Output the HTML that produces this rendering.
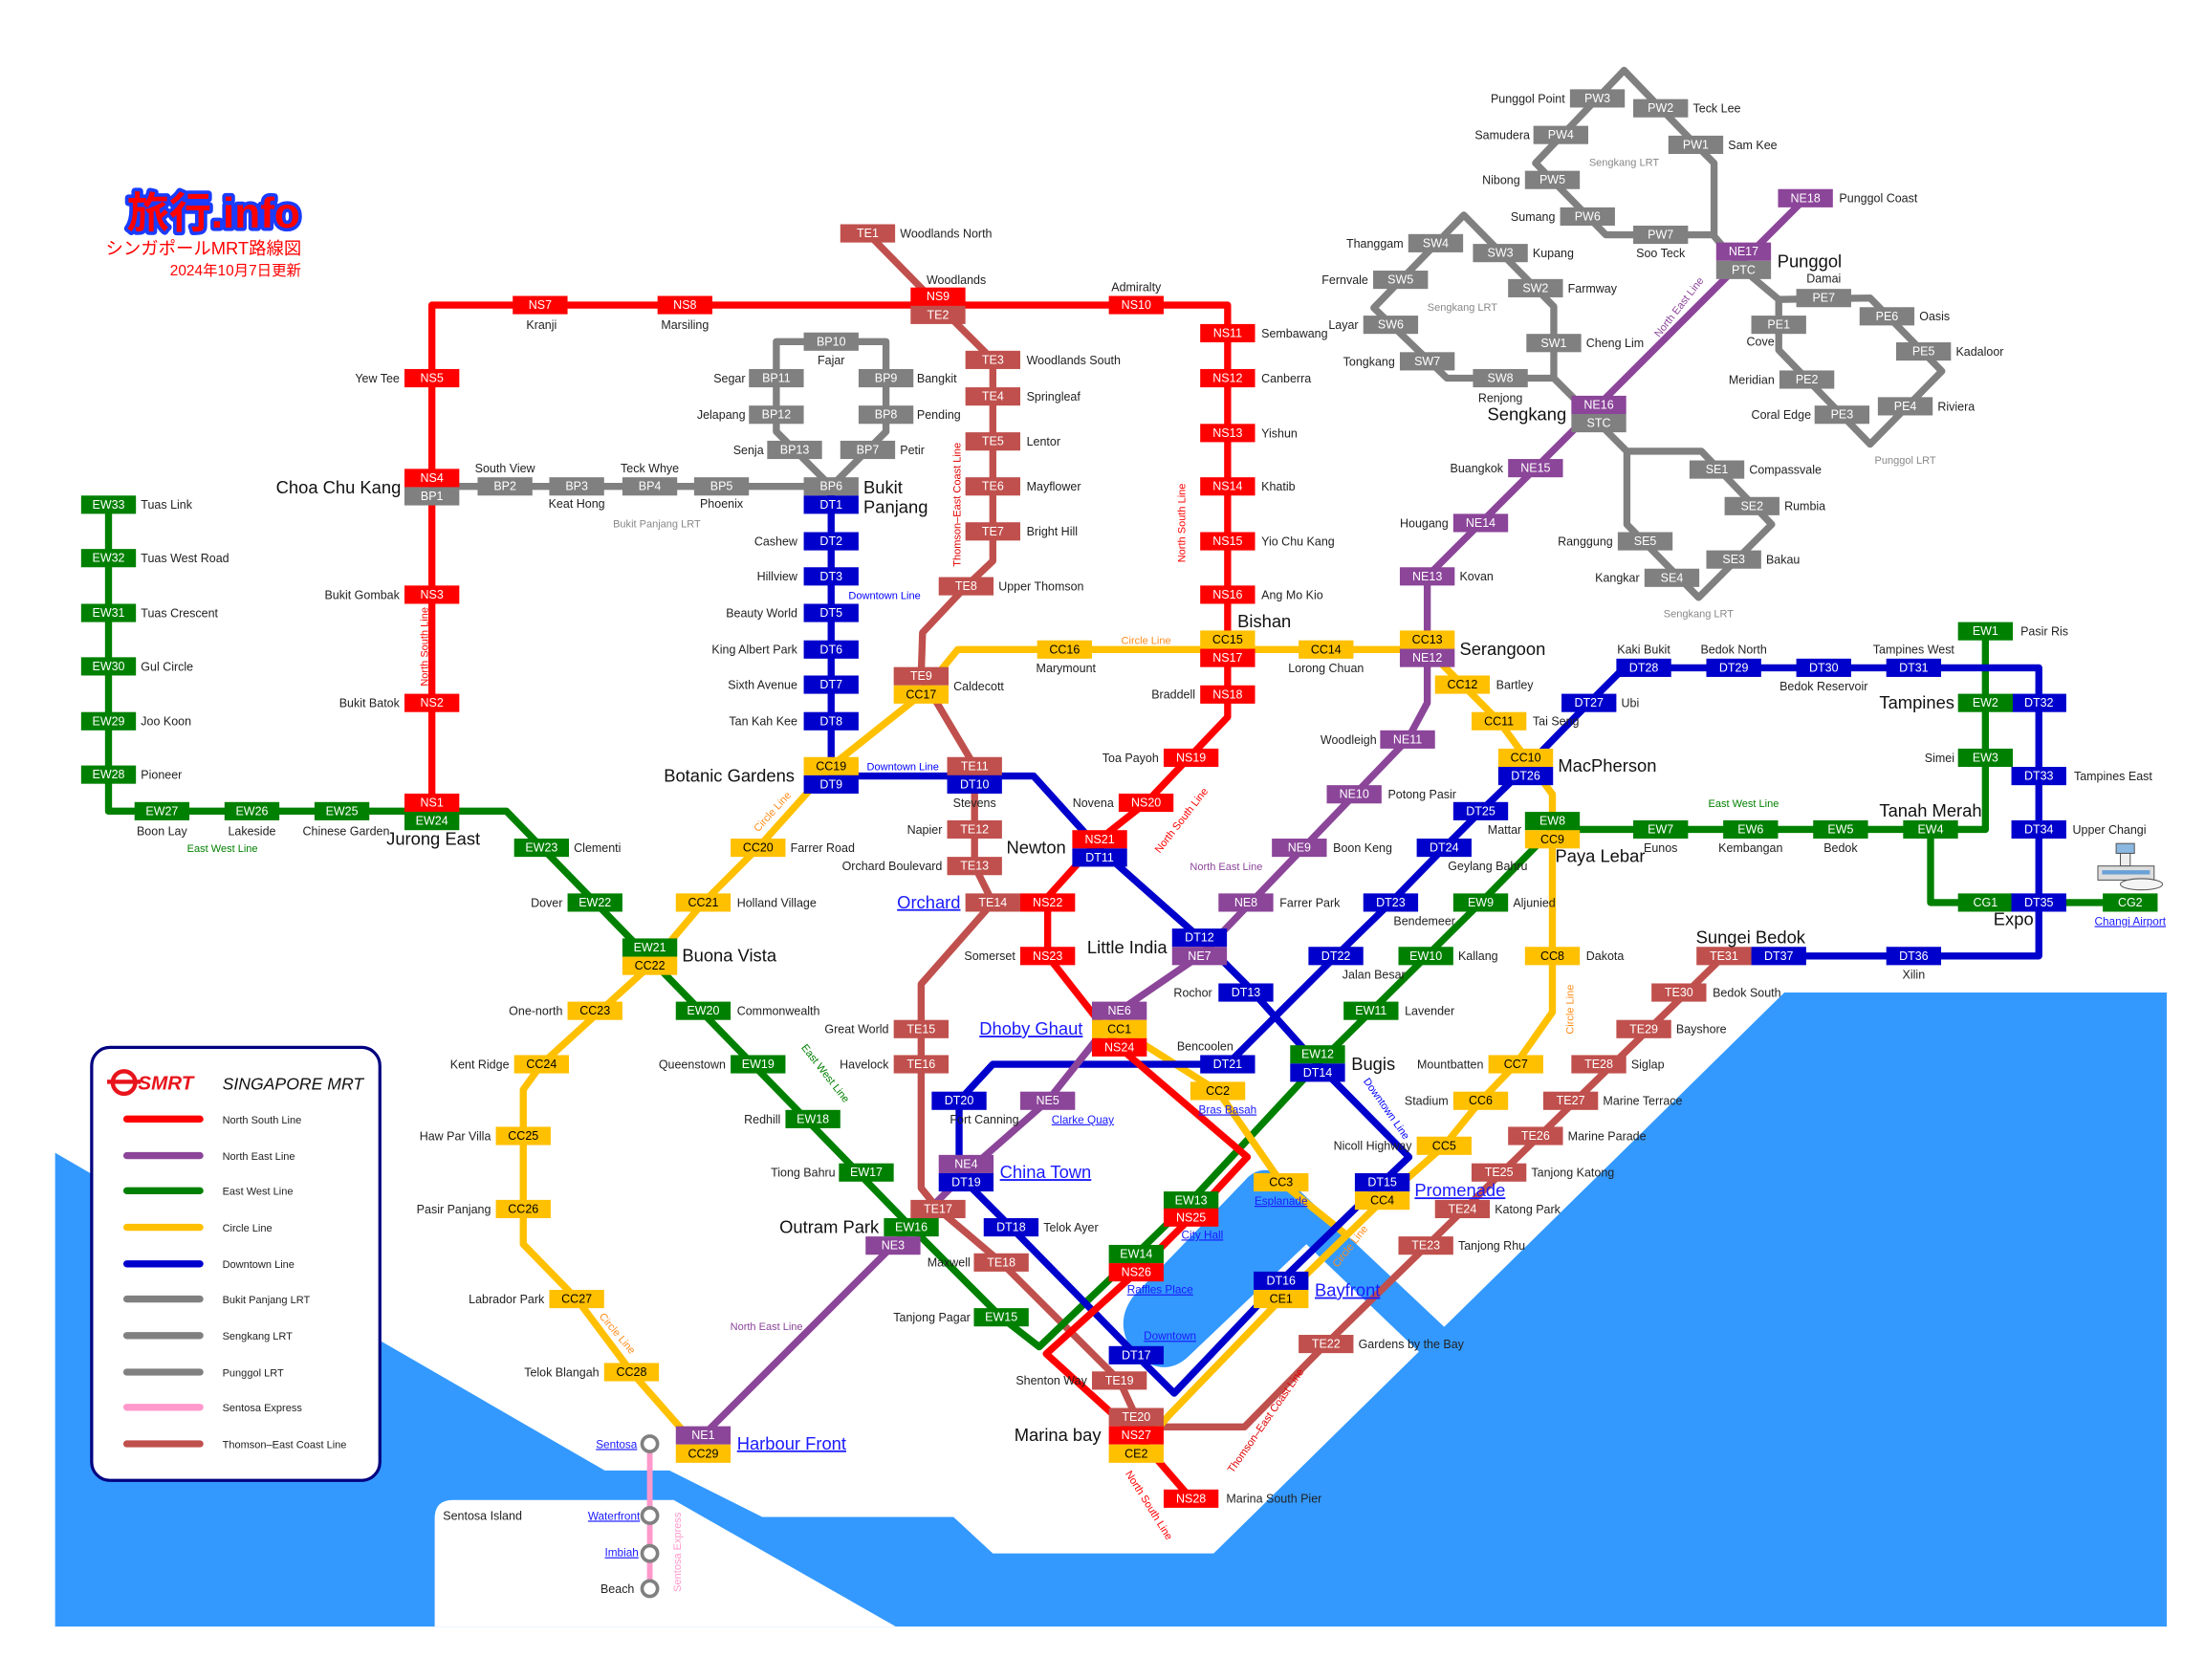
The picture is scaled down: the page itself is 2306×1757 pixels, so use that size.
<!DOCTYPE html>
<html><head><meta charset="utf-8">
<style>
html,body{margin:0;padding:0;background:#fff;}
svg{display:block;}
text{font-family:"Liberation Sans","Noto Sans CJK JP",sans-serif;}
.st rect{x:-19.5px;y:-6.5px;width:39px;height:13px;}
.st text{font-size:8.5px;fill:#fff;text-anchor:middle;dominant-baseline:central;}
.r rect{fill:#ff0000}.p rect{fill:#8b4599}.g rect{fill:#008000}.y rect{fill:#ffc000}.y text{fill:#000}
.b rect{fill:#0000cc}.k rect{fill:#808080}.t rect{fill:#c0504d}
.l{font-size:8.5px;fill:#222;}
.e{text-anchor:end}.m{text-anchor:middle}
.big{font-size:12.5px;fill:#111;}
.u{fill:#1a1aff;text-decoration:underline;}
.ln{fill:none;stroke-width:5;stroke-linejoin:round;stroke-linecap:butt;}
.lrt{font-size:7.5px;fill:#888;}
</style></head><body>
<svg width="2306" height="1757" viewBox="0 0 1568 1195" xmlns="http://www.w3.org/2000/svg">
<rect width="1568" height="1195" fill="#fff"/>
<!-- sea -->
<path d="M39,820 L430,1046 L476,1046 L542,1079 L678,1079 L706,1105 L863,1105 L1269,706 L1541,706 L1541,1157 L39,1157 Z" fill="#3399ff"/>
<path d="M309,1157 L309,1080 Q309,1067 322,1067 L479,1067 L637,1157 Z" fill="#fff"/>
<path d="M885,840 Q893,830 905,833 L920,843 L1040,956 L1020,972 L929,885 L846,964 Q830,980 810,966 L802,955 Q794,938 806,922 Z" fill="#3399ff"/>

<!-- lines -->
<g class="ln">
<path d="M617,166 L667,217 L706,256 L706,399 L687,417 L656,450 L655,481 L693,545 L693,616 L706,642 L655,700 L655,845 L667,860 L712,898 L796,982 L808,1008 L808,1015 L885,1015 L943,956 L1226,680" stroke="#c0504d"/>
<path d="M307,346 L591,346 L565,320 L552,307 L552,243 L630,243 L630,307 L617,320 L591,346" stroke="#808080"/>
<path d="M1240,192 L1219,168 L1219,116 L1206,103 L1155,50 L1092,116 L1142,167 L1219,167" stroke="#808080"/>
<path d="M1137,301 L1105,269 L1105,218 L1041,153 L977,219 L1029,269 L1105,269" stroke="#808080"/>
<path d="M1240,192 L1265,213 L1330,212 L1381,264 L1330,316 L1265,249 L1265,213" stroke="#808080"/>
<path d="M1137,301 L1157,321 L1210,321 L1260,373 L1208,425 L1157,373 L1157,321" stroke="#808080"/>
<path d="M77,359 L77,577 L360,577 L648,873 L712,937 L739,958 L808,892 L847,854 L937,757 L1053,642 L1104,590 L1412,590 L1412,449 M1373,590 L1373,642 L1515,642" stroke="#008000"/>
<path d="M500,1034 L449,976 L410,924 L372,885 L372,775 L385,757 L462,687 L500,642 L539,603 L591,545 L655,494 L681,462 L1015,462 L1040,487 L1066,513 L1085,539 L1104,565 L1104,720 L1078,757 L1053,783 L1027,815 L983,854 L911,924 L831,1007 L808,1034 M796,732 L866,776 L911,841 L957,878" stroke="#ffc000"/>
<path d="M591,346 L591,552 L735,552 L782,604 L853,667 L886,700 L937,757 L1002,823 L983,841 L911,911 L835,991 L808,964 L719,873 L682,836 L682,783 L706,757 L873,757 L950,680 L989,642 L1027,603 L1053,577 L1085,546 L1130,500 L1155,475 L1450,475 L1450,680 L1226,680" stroke="#0000cc"/>
<path d="M500,1021 L635,886 L687,834 L745,783 L796,719 L853,680 L1001,526 L1015,500 L1015,410 L1137,288 L1284,141" stroke="#8b4599"/>
<path d="M307,571 L307,217 L873,217 L873,510 L815,571 L782,597 L745,638 L745,680 L796,745 L887,823 L847,866 L808,905 L744,963 L808,1021 L847,1066" stroke="#ff0000"/>
<path d="M462,1027 L462,1130" stroke="#ff99cc" stroke-width="4"/>
</g>
<g fill="#fff" stroke="#808080" stroke-width="2.5">
<circle cx="462" cy="1027" r="5.5"/><circle cx="462" cy="1078" r="5.5"/><circle cx="462" cy="1105" r="5.5"/><circle cx="462" cy="1130" r="5.5"/>
</g>

<!-- stations -->
<g class="st">
<g class="g" transform="translate(77,359)"><rect/><text>EW33</text></g>
<g class="g" transform="translate(77,397)"><rect/><text>EW32</text></g>
<g class="g" transform="translate(77,436)"><rect/><text>EW31</text></g>
<g class="g" transform="translate(77,474)"><rect/><text>EW30</text></g>
<g class="g" transform="translate(77,513)"><rect/><text>EW29</text></g>
<g class="g" transform="translate(77,551)"><rect/><text>EW28</text></g>
<g class="g" transform="translate(115,577)"><rect/><text>EW27</text></g>
<g class="g" transform="translate(179,577)"><rect/><text>EW26</text></g>
<g class="g" transform="translate(243,577)"><rect/><text>EW25</text></g>
<g class="r" transform="translate(307,571)"><rect/><text>NS1</text></g>
<g class="g" transform="translate(307,584)"><rect/><text>EW24</text></g>
<g class="g" transform="translate(385,603)"><rect/><text>EW23</text></g>
<g class="g" transform="translate(423,642)"><rect/><text>EW22</text></g>
<g class="g" transform="translate(462,674)"><rect/><text>EW21</text></g>
<g class="y" transform="translate(462,687)"><rect/><text>CC22</text></g>
<g class="g" transform="translate(500,719)"><rect/><text>EW20</text></g>
<g class="g" transform="translate(539,757)"><rect/><text>EW19</text></g>
<g class="g" transform="translate(578,796)"><rect/><text>EW18</text></g>
<g class="g" transform="translate(616,834)"><rect/><text>EW17</text></g>
<g class="t" transform="translate(667,860)"><rect/><text>TE17</text></g>
<g class="g" transform="translate(648,873)"><rect/><text>EW16</text></g>
<g class="p" transform="translate(635,886)"><rect/><text>NE3</text></g>
<g class="t" transform="translate(712,898)"><rect/><text>TE18</text></g>
<g class="g" transform="translate(712,937)"><rect/><text>EW15</text></g>
<g class="t" transform="translate(796,982)"><rect/><text>TE19</text></g>
<g class="t" transform="translate(808,1008)"><rect/><text>TE20</text></g>
<g class="r" transform="translate(808,1021)"><rect/><text>NS27</text></g>
<g class="y" transform="translate(808,1034)"><rect/><text>CE2</text></g>
<g class="r" transform="translate(847,1066)"><rect/><text>NS28</text></g>
<g class="g" transform="translate(808,892)"><rect/><text>EW14</text></g>
<g class="r" transform="translate(808,905)"><rect/><text>NS26</text></g>
<g class="g" transform="translate(847,854)"><rect/><text>EW13</text></g>
<g class="r" transform="translate(847,866)"><rect/><text>NS25</text></g>
<g class="b" transform="translate(808,964)"><rect/><text>DT17</text></g>
<g class="b" transform="translate(911,911)"><rect/><text>DT16</text></g>
<g class="y" transform="translate(911,924)"><rect/><text>CE1</text></g>
<g class="y" transform="translate(911,841)"><rect/><text>CC3</text></g>
<g class="b" transform="translate(983,841)"><rect/><text>DT15</text></g>
<g class="y" transform="translate(983,854)"><rect/><text>CC4</text></g>
<g class="y" transform="translate(1027,815)"><rect/><text>CC5</text></g>
<g class="y" transform="translate(1053,783)"><rect/><text>CC6</text></g>
<g class="y" transform="translate(1078,757)"><rect/><text>CC7</text></g>
<g class="y" transform="translate(1104,680)"><rect/><text>CC8</text></g>
<g class="g" transform="translate(937,750)"><rect/><text>EW12</text></g>
<g class="b" transform="translate(937,763)"><rect/><text>DT14</text></g>
<g class="g" transform="translate(975,719)"><rect/><text>EW11</text></g>
<g class="g" transform="translate(1014,680)"><rect/><text>EW10</text></g>
<g class="b" transform="translate(950,680)"><rect/><text>DT22</text></g>
<g class="b" transform="translate(886,706)"><rect/><text>DT13</text></g>
<g class="b" transform="translate(873,757)"><rect/><text>DT21</text></g>
<g class="y" transform="translate(866,776)"><rect/><text>CC2</text></g>
<g class="p" transform="translate(796,719)"><rect/><text>NE6</text></g>
<g class="y" transform="translate(796,732)"><rect/><text>CC1</text></g>
<g class="r" transform="translate(796,745)"><rect/><text>NS24</text></g>
<g class="p" transform="translate(745,783)"><rect/><text>NE5</text></g>
<g class="b" transform="translate(682,783)"><rect/><text>DT20</text></g>
<g class="p" transform="translate(687,828)"><rect/><text>NE4</text></g>
<g class="b" transform="translate(687,841)"><rect/><text>DT19</text></g>
<g class="b" transform="translate(719,873)"><rect/><text>DT18</text></g>
<g class="t" transform="translate(655,732)"><rect/><text>TE15</text></g>
<g class="t" transform="translate(655,757)"><rect/><text>TE16</text></g>
<g class="r" transform="translate(745,680)"><rect/><text>NS23</text></g>
<g class="t" transform="translate(706,642)"><rect/><text>TE14</text></g>
<g class="r" transform="translate(745,642)"><rect/><text>NS22</text></g>
<g class="t" transform="translate(693,616)"><rect/><text>TE13</text></g>
<g class="t" transform="translate(693,590)"><rect/><text>TE12</text></g>
<g class="t" transform="translate(693,545)"><rect/><text>TE11</text></g>
<g class="b" transform="translate(693,558)"><rect/><text>DT10</text></g>
<g class="r" transform="translate(782,597)"><rect/><text>NS21</text></g>
<g class="b" transform="translate(782,610)"><rect/><text>DT11</text></g>
<g class="r" transform="translate(815,571)"><rect/><text>NS20</text></g>
<g class="r" transform="translate(847,539)"><rect/><text>NS19</text></g>
<g class="b" transform="translate(853,667)"><rect/><text>DT12</text></g>
<g class="p" transform="translate(853,680)"><rect/><text>NE7</text></g>
<g class="p" transform="translate(886,642)"><rect/><text>NE8</text></g>
<g class="p" transform="translate(924,603)"><rect/><text>NE9</text></g>
<g class="p" transform="translate(963,565)"><rect/><text>NE10</text></g>
<g class="p" transform="translate(1001,526)"><rect/><text>NE11</text></g>
<g class="b" transform="translate(989,642)"><rect/><text>DT23</text></g>
<g class="g" transform="translate(1053,642)"><rect/><text>EW9</text></g>
<g class="b" transform="translate(1027,603)"><rect/><text>DT24</text></g>
<g class="b" transform="translate(1053,577)"><rect/><text>DT25</text></g>
<g class="g" transform="translate(1104,584)"><rect/><text>EW8</text></g>
<g class="y" transform="translate(1104,597)"><rect/><text>CC9</text></g>
<g class="y" transform="translate(1085,539)"><rect/><text>CC10</text></g>
<g class="b" transform="translate(1085,552)"><rect/><text>DT26</text></g>
<g class="y" transform="translate(1066,513)"><rect/><text>CC11</text></g>
<g class="y" transform="translate(1040,487)"><rect/><text>CC12</text></g>
<g class="y" transform="translate(1015,455)"><rect/><text>CC13</text></g>
<g class="p" transform="translate(1015,468)"><rect/><text>NE12</text></g>
<g class="y" transform="translate(943,462)"><rect/><text>CC14</text></g>
<g class="p" transform="translate(1015,410)"><rect/><text>NE13</text></g>
<g class="p" transform="translate(1053,372)"><rect/><text>NE14</text></g>
<g class="p" transform="translate(1092,333)"><rect/><text>NE15</text></g>
<g class="p" transform="translate(1137,288)"><rect/><text>NE16</text></g>
<g class="k" transform="translate(1137,301)"><rect/><text>STC</text></g>
<g class="b" transform="translate(1130,500)"><rect/><text>DT27</text></g>
<g class="b" transform="translate(1169,475)"><rect/><text>DT28</text></g>
<g class="b" transform="translate(1233,475)"><rect/><text>DT29</text></g>
<g class="b" transform="translate(1297,475)"><rect/><text>DT30</text></g>
<g class="b" transform="translate(1361,475)"><rect/><text>DT31</text></g>
<g class="b" transform="translate(1450,500)"><rect/><text>DT32</text></g>
<g class="g" transform="translate(1412,500)"><rect/><text>EW2</text></g>
<g class="g" transform="translate(1412,449)"><rect/><text>EW1</text></g>
<g class="g" transform="translate(1412,539)"><rect/><text>EW3</text></g>
<g class="b" transform="translate(1450,552)"><rect/><text>DT33</text></g>
<g class="b" transform="translate(1450,590)"><rect/><text>DT34</text></g>
<g class="g" transform="translate(1373,590)"><rect/><text>EW4</text></g>
<g class="g" transform="translate(1181,590)"><rect/><text>EW7</text></g>
<g class="g" transform="translate(1245,590)"><rect/><text>EW6</text></g>
<g class="g" transform="translate(1309,590)"><rect/><text>EW5</text></g>
<g class="g" transform="translate(1412,642)"><rect/><text>CG1</text></g>
<g class="b" transform="translate(1450,642)"><rect/><text>DT35</text></g>
<g class="g" transform="translate(1515,642)"><rect/><text>CG2</text></g>
<g class="b" transform="translate(1361,680)"><rect/><text>DT36</text></g>
<g class="b" transform="translate(1265,680)"><rect/><text>DT37</text></g>
<g class="t" transform="translate(1226,680)"><rect/><text>TE31</text></g>
<g class="t" transform="translate(1194,706)"><rect/><text>TE30</text></g>
<g class="t" transform="translate(1169,732)"><rect/><text>TE29</text></g>
<g class="t" transform="translate(1137,757)"><rect/><text>TE28</text></g>
<g class="t" transform="translate(1117,783)"><rect/><text>TE27</text></g>
<g class="t" transform="translate(1092,808)"><rect/><text>TE26</text></g>
<g class="t" transform="translate(1066,834)"><rect/><text>TE25</text></g>
<g class="t" transform="translate(1040,860)"><rect/><text>TE24</text></g>
<g class="t" transform="translate(1014,886)"><rect/><text>TE23</text></g>
<g class="t" transform="translate(943,956)"><rect/><text>TE22</text></g>
<g class="k" transform="translate(591,346)"><rect/><text>BP6</text></g>
<g class="b" transform="translate(591,359)"><rect/><text>DT1</text></g>
<g class="b" transform="translate(591,385)"><rect/><text>DT2</text></g>
<g class="b" transform="translate(591,410)"><rect/><text>DT3</text></g>
<g class="b" transform="translate(591,436)"><rect/><text>DT5</text></g>
<g class="b" transform="translate(591,462)"><rect/><text>DT6</text></g>
<g class="b" transform="translate(591,487)"><rect/><text>DT7</text></g>
<g class="b" transform="translate(591,513)"><rect/><text>DT8</text></g>
<g class="y" transform="translate(591,545)"><rect/><text>CC19</text></g>
<g class="b" transform="translate(591,558)"><rect/><text>DT9</text></g>
<g class="y" transform="translate(539,603)"><rect/><text>CC20</text></g>
<g class="y" transform="translate(500,642)"><rect/><text>CC21</text></g>
<g class="y" transform="translate(423,719)"><rect/><text>CC23</text></g>
<g class="y" transform="translate(385,757)"><rect/><text>CC24</text></g>
<g class="y" transform="translate(372,808)"><rect/><text>CC25</text></g>
<g class="y" transform="translate(372,860)"><rect/><text>CC26</text></g>
<g class="y" transform="translate(410,924)"><rect/><text>CC27</text></g>
<g class="y" transform="translate(449,976)"><rect/><text>CC28</text></g>
<g class="p" transform="translate(500,1021)"><rect/><text>NE1</text></g>
<g class="y" transform="translate(500,1034)"><rect/><text>CC29</text></g>
<g class="r" transform="translate(307,269)"><rect/><text>NS5</text></g>
<g class="r" transform="translate(307,340)"><rect/><text>NS4</text></g>
<g class="k" transform="translate(307,353)"><rect/><text>BP1</text></g>
<g class="r" transform="translate(307,423)"><rect/><text>NS3</text></g>
<g class="r" transform="translate(307,500)"><rect/><text>NS2</text></g>
<g class="r" transform="translate(384,217)"><rect/><text>NS7</text></g>
<g class="r" transform="translate(487,217)"><rect/><text>NS8</text></g>
<g class="r" transform="translate(667,211)"><rect/><text>NS9</text></g>
<g class="t" transform="translate(667,224)"><rect/><text>TE2</text></g>
<g class="r" transform="translate(808,217)"><rect/><text>NS10</text></g>
<g class="r" transform="translate(873,237)"><rect/><text>NS11</text></g>
<g class="r" transform="translate(873,269)"><rect/><text>NS12</text></g>
<g class="r" transform="translate(873,308)"><rect/><text>NS13</text></g>
<g class="r" transform="translate(873,346)"><rect/><text>NS14</text></g>
<g class="r" transform="translate(873,385)"><rect/><text>NS15</text></g>
<g class="r" transform="translate(873,423)"><rect/><text>NS16</text></g>
<g class="y" transform="translate(873,455)"><rect/><text>CC15</text></g>
<g class="r" transform="translate(873,468)"><rect/><text>NS17</text></g>
<g class="r" transform="translate(873,494)"><rect/><text>NS18</text></g>
<g class="t" transform="translate(617,166)"><rect/><text>TE1</text></g>
<g class="t" transform="translate(706,256)"><rect/><text>TE3</text></g>
<g class="t" transform="translate(706,282)"><rect/><text>TE4</text></g>
<g class="t" transform="translate(706,314)"><rect/><text>TE5</text></g>
<g class="t" transform="translate(706,346)"><rect/><text>TE6</text></g>
<g class="t" transform="translate(706,378)"><rect/><text>TE7</text></g>
<g class="t" transform="translate(687,417)"><rect/><text>TE8</text></g>
<g class="t" transform="translate(655,481)"><rect/><text>TE9</text></g>
<g class="y" transform="translate(655,494)"><rect/><text>CC17</text></g>
<g class="y" transform="translate(757,462)"><rect/><text>CC16</text></g>
<g class="k" transform="translate(359,346)"><rect/><text>BP2</text></g>
<g class="k" transform="translate(410,346)"><rect/><text>BP3</text></g>
<g class="k" transform="translate(462,346)"><rect/><text>BP4</text></g>
<g class="k" transform="translate(513,346)"><rect/><text>BP5</text></g>
<g class="k" transform="translate(565,320)"><rect/><text>BP13</text></g>
<g class="k" transform="translate(552,295)"><rect/><text>BP12</text></g>
<g class="k" transform="translate(552,269)"><rect/><text>BP11</text></g>
<g class="k" transform="translate(591,243)"><rect/><text>BP10</text></g>
<g class="k" transform="translate(630,269)"><rect/><text>BP9</text></g>
<g class="k" transform="translate(630,295)"><rect/><text>BP8</text></g>
<g class="k" transform="translate(617,320)"><rect/><text>BP7</text></g>
<g class="k" transform="translate(1136,70)"><rect/><text>PW3</text></g>
<g class="k" transform="translate(1181,77)"><rect/><text>PW2</text></g>
<g class="k" transform="translate(1110,96)"><rect/><text>PW4</text></g>
<g class="k" transform="translate(1206,103)"><rect/><text>PW1</text></g>
<g class="k" transform="translate(1104,128)"><rect/><text>PW5</text></g>
<g class="k" transform="translate(1129,154)"><rect/><text>PW6</text></g>
<g class="k" transform="translate(1181,167)"><rect/><text>PW7</text></g>
<g class="k" transform="translate(1021,173)"><rect/><text>SW4</text></g>
<g class="k" transform="translate(1067,180)"><rect/><text>SW3</text></g>
<g class="k" transform="translate(996,199)"><rect/><text>SW5</text></g>
<g class="k" transform="translate(1092,205)"><rect/><text>SW2</text></g>
<g class="k" transform="translate(989,231)"><rect/><text>SW6</text></g>
<g class="k" transform="translate(1105,244)"><rect/><text>SW1</text></g>
<g class="k" transform="translate(1015,257)"><rect/><text>SW7</text></g>
<g class="k" transform="translate(1067,269)"><rect/><text>SW8</text></g>
<g class="p" transform="translate(1240,179)"><rect/><text>NE17</text></g>
<g class="k" transform="translate(1240,192)"><rect/><text>PTC</text></g>
<g class="p" transform="translate(1284,141)"><rect/><text>NE18</text></g>
<g class="k" transform="translate(1297,212)"><rect/><text>PE7</text></g>
<g class="k" transform="translate(1342,225)"><rect/><text>PE6</text></g>
<g class="k" transform="translate(1265,231)"><rect/><text>PE1</text></g>
<g class="k" transform="translate(1368,250)"><rect/><text>PE5</text></g>
<g class="k" transform="translate(1285,270)"><rect/><text>PE2</text></g>
<g class="k" transform="translate(1355,289)"><rect/><text>PE4</text></g>
<g class="k" transform="translate(1310,295)"><rect/><text>PE3</text></g>
<g class="k" transform="translate(1221,334)"><rect/><text>SE1</text></g>
<g class="k" transform="translate(1246,360)"><rect/><text>SE2</text></g>
<g class="k" transform="translate(1170,385)"><rect/><text>SE5</text></g>
<g class="k" transform="translate(1233,398)"><rect/><text>SE3</text></g>
<g class="k" transform="translate(1189,411)"><rect/><text>SE4</text></g>
</g>

<!-- labels -->
<g class="l">
<text x="100" y="362">Tuas Link</text><text x="100" y="400">Tuas West Road</text><text x="100" y="439">Tuas Crescent</text>
<text x="100" y="477">Gul Circle</text><text x="100" y="516">Joo Koon</text><text x="100" y="554">Pioneer</text>
<text class="m" x="115" y="594">Boon Lay</text><text class="m" x="179" y="594">Lakeside</text><text class="m" x="246" y="594">Chinese Garden</text>
<text x="408" y="606">Clementi</text><text class="e" x="400" y="645">Dover</text>
<text x="524" y="722">Commonwealth</text><text class="e" x="516" y="760">Queenstown</text>
<text class="e" x="555" y="799">Redhill</text><text class="e" x="594" y="837">Tiong Bahru</text>
<text class="e" x="690" y="901">Maxwell</text><text class="e" x="690" y="940">Tanjong Pagar</text>
<text class="e" x="773" y="985">Shenton Way</text><text x="872" y="1069">Marina South Pier</text>
<text x="742" y="876">Telok Ayer</text>
<text class="e" x="632" y="735">Great World</text><text class="e" x="632" y="760">Havelock</text>
<text class="m" x="700" y="799">Fort Canning</text>
<text class="e" x="722" y="683">Somerset</text><text class="e" x="670" y="619">Orchard Boulevard</text><text class="e" x="670" y="593">Napier</text>
<text class="m" x="693" y="574">Stevens</text><text class="e" x="792" y="574">Novena</text><text class="e" x="824" y="542">Toa Payoh</text>
<text class="e" x="862" y="709">Rochor</text><text class="m" x="857" y="747">Bencoolen</text>
<text x="910" y="645">Farrer Park</text><text x="948" y="606">Boon Keng</text><text x="987" y="568">Potong Pasir</text>
<text class="e" x="979" y="529">Woodleigh</text><text class="m" x="977" y="696">Jalan Besar</text><text class="m" x="1013" y="658">Bendemeer</text>
<text x="1076" y="645">Aljunied</text><text class="m" x="1058" y="619">Geylang Bahru</text><text class="m" x="1070" y="593">Mattar</text>
<text x="999" y="722">Lavender</text><text x="1037" y="683">Kallang</text><text x="1128" y="683">Dakota</text>
<text class="e" x="1055" y="760">Mountbatten</text><text class="e" x="1030" y="786">Stadium</text><text class="e" x="1004" y="818">Nicoll Highway</text>
<text x="1090" y="516">Tai Seng</text><text x="1064" y="490">Bartley</text><text class="m" x="943" y="478">Lorong Chuan</text>
<text x="1038" y="413">Kovan</text><text class="e" x="1030" y="375">Hougang</text><text class="e" x="1069" y="336">Buangkok</text>
<text x="1153" y="503">Ubi</text><text class="m" x="1169" y="465">Kaki Bukit</text><text class="m" x="1233" y="465">Bedok North</text>
<text class="m" x="1297" y="491">Bedok Reservoir</text><text class="m" x="1361" y="465">Tampines West</text>
<text x="1437" y="452">Pasir Ris</text><text class="e" x="1390" y="542">Simei</text><text x="1475" y="555">Tampines East</text>
<text x="1474" y="593">Upper Changi</text>
<text class="m" x="1181" y="606">Eunos</text><text class="m" x="1245" y="606">Kembangan</text><text class="m" x="1309" y="606">Bedok</text>
<text class="m" x="1361" y="696">Xilin</text>
<text x="1218" y="709">Bedok South</text><text x="1192" y="735">Bayshore</text><text x="1160" y="760">Siglap</text>
<text x="1140" y="786">Marine Terrace</text><text x="1115" y="811">Marine Parade</text><text x="1089" y="837">Tanjong Katong</text>
<text x="1063" y="863">Katong Park</text><text x="1037" y="889">Tanjong Rhu</text><text x="966" y="959">Gardens by the Bay</text>
<text class="e" x="567" y="388">Cashew</text><text class="e" x="567" y="413">Hillview</text><text class="e" x="567" y="439">Beauty World</text>
<text class="e" x="567" y="465">King Albert Park</text><text class="e" x="567" y="490">Sixth Avenue</text><text class="e" x="567" y="516">Tan Kah Kee</text>
<text x="562" y="606">Farrer Road</text><text x="524" y="645">Holland Village</text>
<text class="e" x="400" y="722">One-north</text><text class="e" x="362" y="760">Kent Ridge</text><text class="e" x="349" y="811">Haw Par Villa</text>
<text class="e" x="349" y="863">Pasir Panjang</text><text class="e" x="387" y="927">Labrador Park</text><text class="e" x="426" y="979">Telok Blangah</text>
<text class="e" x="451" y="1133">Beach</text><text class="m" x="343" y="1081">Sentosa Island</text>
<text class="e" x="284" y="272">Yew Tee</text><text class="e" x="284" y="426">Bukit Gombak</text><text class="e" x="284" y="503">Bukit Batok</text>
<text class="m" x="385" y="234">Kranji</text><text class="m" x="487" y="234">Marsiling</text>
<text class="m" x="680" y="202">Woodlands</text><text class="m" x="808" y="207">Admiralty</text>
<text x="897" y="240">Sembawang</text><text x="897" y="272">Canberra</text><text x="897" y="311">Yishun</text>
<text x="897" y="349">Khatib</text><text x="897" y="388">Yio Chu Kang</text><text x="897" y="426">Ang Mo Kio</text>
<text class="e" x="850" y="497">Braddell</text>
<text x="640" y="169">Woodlands North</text><text x="730" y="259">Woodlands South</text><text x="730" y="285">Springleaf</text>
<text x="730" y="317">Lentor</text><text x="730" y="349">Mayflower</text><text x="730" y="381">Bright Hill</text>
<text x="710" y="420">Upper Thomson</text><text x="678" y="491">Caldecott</text><text class="m" x="758" y="478">Marymount</text>
<text class="m" x="359" y="336">South View</text><text class="m" x="410" y="361">Keat Hong</text><text class="m" x="462" y="336">Teck Whye</text>
<text class="m" x="513" y="361">Phoenix</text>
<text class="e" x="543" y="323">Senja</text><text class="e" x="530" y="298">Jelapang</text><text class="e" x="530" y="272">Segar</text>
<text class="m" x="591" y="259">Fajar</text><text x="652" y="272">Bangkit</text><text x="652" y="298">Pending</text><text x="640" y="323">Petir</text>
<text class="e" x="1113" y="73">Punggol Point</text><text x="1204" y="80">Teck Lee</text><text class="e" x="1088" y="99">Samudera</text>
<text x="1229" y="106">Sam Kee</text><text class="e" x="1081" y="131">Nibong</text><text class="e" x="1106" y="157">Sumang</text>
<text class="m" x="1181" y="183">Soo Teck</text>
<text class="e" x="998" y="176">Thanggam</text><text x="1090" y="183">Kupang</text><text class="e" x="973" y="202">Fernvale</text>
<text x="1115" y="208">Farmway</text><text class="e" x="966" y="234">Layar</text><text x="1128" y="247">Cheng Lim</text>
<text class="e" x="992" y="260">Tongkang</text><text class="m" x="1067" y="286">Renjong</text>
<text class="m" x="1297" y="201">Damai</text><text x="1365" y="228">Oasis</text><text class="m" x="1252" y="246">Cove</text>
<text x="1391" y="253">Kadaloor</text><text class="e" x="1262" y="273">Meridian</text><text x="1378" y="292">Riviera</text>
<text class="e" x="1288" y="298">Coral Edge</text><text x="1308" y="144">Punggol Coast</text>
<text x="1244" y="337">Compassvale</text><text x="1269" y="363">Rumbia</text><text class="e" x="1147" y="388">Ranggung</text>
<text x="1256" y="401">Bakau</text><text class="e" x="1166" y="414">Kangkar</text>
</g>
<g class="lrt">
<text class="m" x="1155" y="118">Sengkang LRT</text><text class="m" x="1040" y="221">Sengkang LRT</text>
<text class="m" x="1355" y="330">Punggol LRT</text><text class="m" x="1208" y="439">Sengkang LRT</text>
<text class="m" x="467" y="375">Bukit Panjang LRT</text>
</g>
<!-- big labels -->
<g class="big">
<text class="m" x="308" y="601">Jurong East</text><text x="485" y="684">Buona Vista</text>
<text class="e" x="625" y="877">Outram Park</text><text class="e" x="783" y="1025">Marina bay</text>
<text x="961" y="761">Bugis</text><text class="e" x="830" y="678">Little India</text>
<text class="e" x="758" y="607">Newton</text><text class="m" x="1138" y="613">Paya Lebar</text>
<text x="1108" y="549">MacPherson</text><text x="1038" y="466">Serangoon</text>
<text class="e" x="1114" y="299">Sengkang</text><text x="1264" y="190">Punggol</text>
<text class="e" x="1390" y="504">Tampines</text><text class="m" x="1373" y="581">Tanah Merah</text>
<text class="m" x="1432" y="658">Expo</text><text class="m" x="1245" y="671">Sungei Bedok</text>
<text x="880" y="446">Bishan</text><text x="614" y="351">Bukit</text><text x="614" y="365">Panjang</text>
<text class="e" x="565" y="556">Botanic Gardens</text><text class="e" x="285" y="351">Choa Chu Kang</text>
</g>
<g class="big u">
<text class="e" x="770" y="736">Dhoby Ghaut</text><text x="711" y="838">China Town</text>
<text class="e" x="683" y="646">Orchard</text><text x="935" y="922">Bayfront</text>
<text x="1006" y="851">Promenade</text><text x="524" y="1031">Harbour Front</text>
</g>
<g class="l u" style="font-size:8px">
<text class="m" x="770" y="799">Clarke Quay</text><text class="m" x="873" y="792">Bras Basah</text>
<text class="m" x="911" y="857">Esplanade</text><text class="m" x="855" y="881">City Hall</text>
<text class="m" x="825" y="920">Raffles Place</text><text class="m" x="832" y="953">Downtown</text>
<text class="m" x="1515" y="658">Changi Airport</text>
<text class="e" x="453" y="1030">Sentosa</text><text class="e" x="455" y="1081">Waterfront</text><text class="e" x="454" y="1107">Imbiah</text>
</g>
<!-- line name labels -->
<g style="font-size:7.5px">
<text x="158" y="606" class="m" fill="#008000">East West Line</text>
<text x="1240" y="574" class="m" fill="#008000">East West Line</text>
<text transform="translate(585,765) rotate(52)" class="m" fill="#008000">East West Line</text>
<text x="629" y="426" class="m" fill="#0000ff">Downtown Line</text>
<text x="642" y="548" class="m" fill="#0000ff">Downtown Line</text>
<text transform="translate(984,790) rotate(55)" class="m" fill="#0000ff">Downtown Line</text>
<text x="815" y="458" class="m" fill="#ff8c1a">Circle Line</text>
<text transform="translate(551,579) rotate(-48)" class="m" fill="#ff8c1a">Circle Line</text>
<text transform="translate(437,950) rotate(50)" class="m" fill="#ff8c1a">Circle Line</text>
<text transform="translate(1119,718) rotate(-90)" class="m" fill="#ff8c1a">Circle Line</text>
<text transform="translate(962,888) rotate(-52)" class="m" fill="#ff8c1a">Circle Line</text>
<text transform="translate(683,359) rotate(-90)" class="m" fill="#e00000">Thomson–East Coast Line</text>
<text transform="translate(902,1012) rotate(-55)" class="m" fill="#e00000">Thomson–East Coast Line</text>
<text transform="translate(843,372) rotate(-90)" class="m" fill="#ff0000">North South Line</text>
<text transform="translate(304,460) rotate(-90)" class="m" fill="#ff0000">North South Line</text>
<text transform="translate(842,585) rotate(-52)" class="m" fill="#ff0000">North South Line</text>
<text transform="translate(815,1072) rotate(58)" class="m" fill="#ff0000">North South Line</text>
<text x="872" y="619" class="m" fill="#8b4599">North East Line</text>
<text x="545" y="946" class="m" fill="#8b4599">North East Line</text>
<text transform="translate(1196,220) rotate(-52)" class="m" fill="#8b4599">North East Line</text>
<text transform="translate(484,1104) rotate(-90)" class="m" fill="#ff99cc">Sentosa Express</text>
</g>

<!-- airport icon -->
<g>
<rect x="1505" y="600" width="13" height="7" fill="#8ab8e0" stroke="#555" stroke-width="0.7"/>
<rect x="1508" y="607" width="7" height="9" fill="#eee" stroke="#555" stroke-width="0.7"/>
<rect x="1492" y="616" width="40" height="10" fill="#ddd" stroke="#555" stroke-width="0.7"/>
<rect x="1495" y="619" width="34" height="3" fill="#6aa0d8"/>
<ellipse cx="1523" cy="629" rx="15" ry="4" fill="#f4f4f4" stroke="#555" stroke-width="0.7"/>
</g>

<!-- title -->
<text x="90" y="162" style="font-size:30px;font-weight:bold;paint-order:stroke;" fill="#ff0000" stroke="#1a3cff" stroke-width="5" stroke-linejoin="round">旅行.info</text>
<text x="75" y="181" style="font-size:12.5px" fill="#ff0000">シンガポールMRT路線図</text>
<text x="214" y="196" class="e" style="font-size:10.5px" fill="#ff0000">2024年10月7日更新</text>

<!-- legend -->
<rect x="65" y="745" width="205" height="308" rx="13" fill="#fff" stroke="#000080" stroke-width="2.2"/>
<circle cx="88" cy="770" r="8" fill="none" stroke="#e8141c" stroke-width="3"/>
<rect x="76" y="768" width="24" height="3" fill="#e8141c"/>
<text x="98" y="775" style="font-size:14px;font-weight:bold;font-style:italic" fill="#e8141c">SMRT</text>
<text x="158" y="775" style="font-size:12px;font-style:italic" fill="#111">SINGAPORE MRT</text>
<g stroke-width="5" stroke-linecap="round">
<line x1="90" y1="796" x2="142" y2="796" stroke="#ff0000"/>
<line x1="90" y1="822" x2="142" y2="822" stroke="#8b4599"/>
<line x1="90" y1="847" x2="142" y2="847" stroke="#008000"/>
<line x1="90" y1="873" x2="142" y2="873" stroke="#ffc000"/>
<line x1="90" y1="899" x2="142" y2="899" stroke="#0000cc"/>
<line x1="90" y1="924" x2="142" y2="924" stroke="#808080"/>
<line x1="90" y1="950" x2="142" y2="950" stroke="#808080"/>
<line x1="90" y1="976" x2="142" y2="976" stroke="#808080"/>
<line x1="90" y1="1001" x2="142" y2="1001" stroke="#ff99cc"/>
<line x1="90" y1="1027" x2="142" y2="1027" stroke="#c0504d"/>
</g>
<g class="l" style="font-size:7.5px">
<text x="158" y="799">North South Line</text><text x="158" y="825">North East Line</text>
<text x="158" y="850">East West Line</text><text x="158" y="876">Circle Line</text>
<text x="158" y="902">Downtown Line</text><text x="158" y="927">Bukit Panjang LRT</text>
<text x="158" y="953">Sengkang LRT</text><text x="158" y="979">Punggol LRT</text>
<text x="158" y="1004">Sentosa Express</text><text x="158" y="1030">Thomson–East Coast Line</text>
</g>
</svg>
</body></html>
